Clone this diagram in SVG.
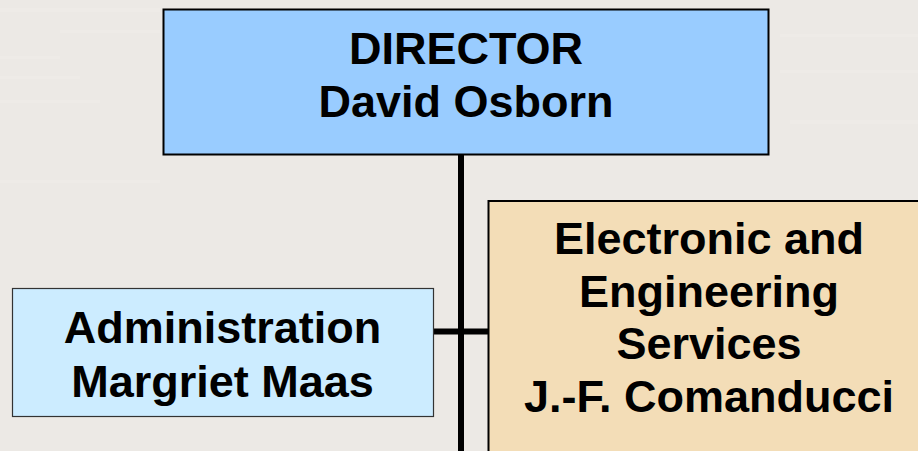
<svg xmlns="http://www.w3.org/2000/svg" width="918" height="451" viewBox="0 0 918 451">
<style>
.t{font-family:"Liberation Sans",Arial,sans-serif;font-weight:bold;font-size:45px;fill:#000;text-anchor:middle}
.c{stroke:#000;stroke-width:6;fill:none}
</style>
<rect x="0" y="0" width="918" height="451" fill="#ECE9E5"/>
<g opacity="0.3" fill="#F3F1EE">
<rect x="0" y="8" width="160" height="4"/>
<rect x="60" y="30" width="100" height="3"/>
<rect x="0" y="56" width="60" height="3"/>
<rect x="0" y="76" width="80" height="3"/>
<rect x="0" y="100" width="100" height="3"/>
<rect x="780" y="34" width="138" height="3"/>
<rect x="780" y="70" width="138" height="3"/>
<rect x="790" y="120" width="128" height="4"/>
<rect x="0" y="180" width="160" height="3"/>
</g>
<g id="connectors">
<line class="c" x1="461" y1="154" x2="461" y2="451"/>
<line class="c" x1="433" y1="331.5" x2="489" y2="331.5"/>
</g>
<g id="director">
<rect x="163.5" y="9.5" width="605" height="145" fill="#99CCFF" stroke="#000" stroke-width="2"/>
<text class="t" x="466" y="64">DIRECTOR</text>
<text class="t" x="466" y="117">David Osborn</text>
</g>
<g id="administration">
<rect x="12.5" y="288.5" width="421" height="128" fill="#CCECFF" stroke="#333" stroke-width="1.2"/>
<text class="t" x="222.5" y="343">Administration</text>
<text class="t" x="222.5" y="397">Margriet Maas</text>
</g>
<g id="electronic">
<rect x="488.5" y="201" width="450" height="270" fill="#F3DDB7" stroke="#000" stroke-width="2"/>
<text class="t" x="709" y="254">Electronic and</text>
<text class="t" x="709" y="306.5">Engineering</text>
<text class="t" x="709" y="359">Services</text>
<text class="t" x="709" y="411.5">J.-F. Comanducci</text>
</g>
</svg>
